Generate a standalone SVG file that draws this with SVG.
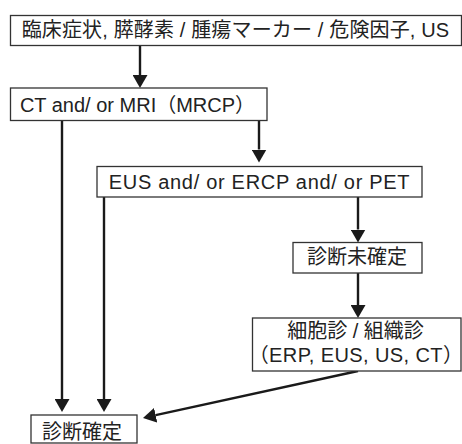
<svg xmlns="http://www.w3.org/2000/svg" width="462" height="444" viewBox="0 0 462 444">
<defs>
<style>
.box{fill:#fff;stroke:#333;stroke-width:1.3}
.t{font-family:"Liberation Sans","Noto Sans CJK JP",Arial,sans-serif;font-size:20px;fill:#222;text-anchor:middle}
.c{fill:none;stroke:#1a1a1a;stroke-width:2.4}
</style>
<marker id="ah" markerUnits="userSpaceOnUse" viewBox="0 0 13 15" refX="0" refY="7.5" markerWidth="13" markerHeight="15" orient="auto">
<path d="M0,0 L13,7.5 L0,15 z" fill="#1a1a1a"/>
</marker>
</defs>
<rect width="462" height="444" fill="#fff"/>
<g id="connectors">
<line class="c" x1="140" y1="45.5" x2="140" y2="75" marker-end="url(#ah)"/>
<line class="c" x1="62" y1="120.5" x2="62" y2="399" marker-end="url(#ah)"/>
<line class="c" x1="259" y1="120.5" x2="259" y2="149.5" marker-end="url(#ah)"/>
<line class="c" x1="104" y1="197" x2="104" y2="399" marker-end="url(#ah)"/>
<line class="c" x1="358" y1="197" x2="358" y2="229.5" marker-end="url(#ah)"/>
<line class="c" x1="358" y1="273" x2="358" y2="305" marker-end="url(#ah)"/>
<line class="c" x1="358" y1="371" x2="155.7" y2="415.2" marker-end="url(#ah)"/>
</g>
<g id="n1">
<rect class="box" x="10.5" y="15.5" width="451" height="30"/>
<text class="t" x="235.5" y="37" letter-spacing="0.15">臨床症状, 膵酵素 / 腫瘍マーカー / 危険因子, US</text>
</g>
<g id="n2">
<rect class="box" x="10.5" y="88" width="256.5" height="32.5"/>
<text class="t" x="137.5" y="112">CT and/ or MRI（MRCP）</text>
</g>
<g id="n3">
<rect class="box" x="97" y="166.5" width="325" height="30.5"/>
<text class="t" x="259.5" y="189" letter-spacing="0.7">EUS and/ or ERCP and/ or PET</text>
</g>
<g id="n4">
<rect class="box" x="293" y="242.5" width="129" height="30.5"/>
<text class="t" x="357" y="264">診断未確定</text>
</g>
<g id="n5">
<rect class="box" x="252.5" y="318" width="208.5" height="53"/>
<text class="t" x="355.5" y="338">細胞診 / 組織診</text>
<text class="t" x="356" y="361.5" letter-spacing="0.4">（ERP, EUS, US, CT）</text>
</g>
<g id="n6">
<rect class="box" x="31" y="415" width="106" height="28"/>
<text class="t" x="82" y="439">診断確定</text>
</g>
</svg>
